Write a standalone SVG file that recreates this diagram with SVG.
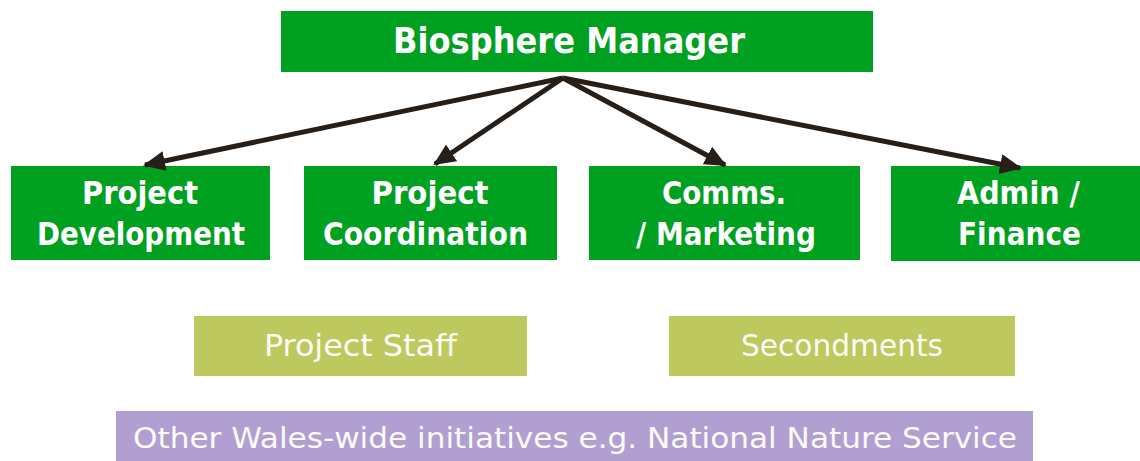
<svg xmlns="http://www.w3.org/2000/svg" width="1140" height="461" viewBox="0 0 1140 461">
<style>
.g{fill:#00a020}
.o{fill:#bdc85e}
.p{fill:#b19fd2}
.tb{font-family:"DejaVu Sans","Open Sans",sans-serif;font-weight:bold;fill:#ffffff;text-anchor:middle}
.tn{font-family:"DejaVu Sans Condensed","DejaVu Sans",sans-serif;fill:#fbfbf6;text-anchor:middle}
.c{stroke:#261e17;stroke-width:5;fill:none;marker-end:url(#ah)}
</style>
<defs>
<marker id="ah" markerUnits="userSpaceOnUse" markerWidth="22" markerHeight="20" viewBox="0 0 22 20" refX="20" refY="10" orient="auto">
<path d="M0,0 L22,10 L0,20 Z" fill="#261e17"/>
</marker>
</defs>
<rect width="1140" height="461" fill="#ffffff"/>
<g id="manager">
<rect class="g" x="281" y="11" width="592" height="61"/>
<text class="tb" x="569" y="53" font-size="35" textLength="352" lengthAdjust="spacingAndGlyphs">Biosphere Manager</text>
</g>
<g id="dev">
<rect class="g" x="11" y="166" width="259" height="94"/>
<text class="tb" x="140" y="204" font-size="32" textLength="116" lengthAdjust="spacingAndGlyphs">Project</text>
<text class="tb" x="141" y="245" font-size="32" textLength="208" lengthAdjust="spacingAndGlyphs">Development</text>
</g>
<g id="coord">
<rect class="g" x="304" y="166" width="253" height="94"/>
<text class="tb" x="430" y="204" font-size="32" textLength="117" lengthAdjust="spacingAndGlyphs">Project</text>
<text class="tb" x="425.5" y="245" font-size="32" textLength="205" lengthAdjust="spacingAndGlyphs">Coordination</text>
</g>
<g id="comms">
<rect class="g" x="589" y="166" width="271" height="94"/>
<text class="tb" x="724" y="204" font-size="32" textLength="124" lengthAdjust="spacingAndGlyphs">Comms.</text>
<text class="tb" x="726" y="245" font-size="32" textLength="180" lengthAdjust="spacingAndGlyphs">/ Marketing</text>
</g>
<g id="admin">
<rect class="g" x="891" y="166" width="249" height="95"/>
<text class="tb" x="1018.5" y="204" font-size="32" textLength="123" lengthAdjust="spacingAndGlyphs">Admin /</text>
<text class="tb" x="1019.5" y="245" font-size="32" textLength="123" lengthAdjust="spacingAndGlyphs">Finance</text>
</g>
<g id="staff">
<rect class="o" x="194" y="316" width="333" height="60"/>
<text class="tn" x="360.5" y="356" font-size="31" textLength="193" lengthAdjust="spacingAndGlyphs">Project Staff</text>
</g>
<g id="secondments">
<rect class="o" x="669" y="316" width="346" height="60"/>
<text class="tn" x="842" y="356" font-size="31" textLength="202" lengthAdjust="spacingAndGlyphs">Secondments</text>
</g>
<g id="other">
<rect class="p" x="116" y="411" width="917" height="50"/>
<text class="tn" x="575" y="448" font-size="29" textLength="884" lengthAdjust="spacingAndGlyphs">Other Wales-wide initiatives e.g. National Nature Service</text>
</g>
<g id="connectors">
<line class="c" x1="563" y1="78" x2="145" y2="165"/>
<line class="c" x1="563" y1="78" x2="435" y2="164"/>
<line class="c" x1="563" y1="78" x2="725" y2="165"/>
<line class="c" x1="563" y1="78" x2="1020" y2="168"/>
</g>
</svg>
